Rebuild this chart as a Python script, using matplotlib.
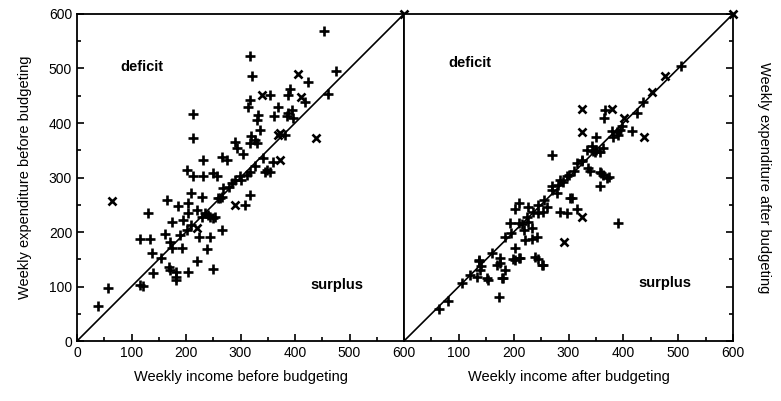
import matplotlib
matplotlib.use("Agg")
import matplotlib.pyplot as plt
from matplotlib.ticker import MultipleLocator

plt.rcParams['font.family'] = ['Liberation Sans', 'DejaVu Sans']

# before budgeting: '+' points (income, expenditure)
before_plus_x = [39, 56, 116, 122, 140, 155, 168, 171, 182, 182, 182, 204, 220, 239, 249,
                 116, 134, 137, 161, 171, 174, 192, 174, 195, 204, 220, 229, 235, 244, 253,
                 266, 223, 244, 210, 201, 189, 131, 165, 186, 204, 210, 229, 232, 213, 256,
                 250, 268, 266, 290, 299, 311, 317, 308, 317, 345, 354, 263, 241, 250, 201,
                 231, 266, 275, 305, 290, 293, 320, 327, 317, 330, 336, 333, 330, 368, 361,
                 388, 385, 394, 397, 382, 317, 313, 354, 390, 388, 418, 424, 475, 453, 318,
                 322, 212, 212, 461, 348, 359, 284, 300, 326, 342, 278, 258]
before_plus_y = [64, 97, 103, 101, 124, 152, 136, 130, 127, 118, 112, 127, 147, 168, 133,
                 187, 187, 161, 196, 182, 170, 170, 219, 222, 234, 240, 228, 234, 228, 228,
                 204, 191, 191, 213, 204, 195, 234, 259, 248, 253, 272, 265, 302, 302, 302,
                 308, 280, 265, 295, 302, 305, 311, 250, 268, 311, 311, 262, 231, 225, 314,
                 333, 338, 332, 344, 366, 354, 376, 369, 363, 363, 388, 415, 406, 429, 412,
                 418, 412, 424, 409, 378, 443, 429, 451, 462, 451, 439, 476, 495, 569, 523,
                 486, 416, 373, 453, 314, 329, 290, 296, 322, 336, 282, 262]
# before budgeting: 'x' points
before_x_x = [64, 290, 220, 405, 438, 411, 340, 372, 372, 368, 600]
before_x_y = [256, 250, 207, 490, 373, 448, 451, 381, 332, 378, 600]

# after budgeting: '+' points
after_plus_x = [506, 424, 367, 365, 415, 388, 394, 391, 382, 269, 351, 342, 351, 357, 363,
                315, 324, 357, 363, 297, 333, 348, 336, 370, 285, 269, 281, 360, 373, 357,
                339, 391, 315, 303, 297, 269, 279, 260, 254, 209, 202, 227, 236, 245, 193,
                209, 227, 218, 233, 221, 233, 242, 202, 209, 202, 199, 239, 245, 253, 175,
                175, 169, 184, 181, 153, 137, 138, 133, 174, 63, 81, 306, 285, 151, 178,
                136, 212, 251, 140, 160, 185, 195, 215, 225, 245, 255, 290, 300, 310, 325,
                345, 380, 398, 435, 120, 105]
after_plus_y = [505, 418, 424, 410, 386, 384, 387, 378, 375, 341, 375, 357, 350, 347, 354,
                326, 332, 311, 305, 302, 350, 347, 317, 299, 295, 284, 286, 308, 301, 284,
                312, 216, 243, 262, 234, 277, 271, 246, 237, 253, 243, 246, 237, 234, 216,
                216, 219, 204, 207, 185, 188, 191, 170, 152, 149, 150, 154, 150, 139, 152,
                143, 139, 130, 115, 112, 146, 130, 118, 81, 58, 73, 262, 237, 115, 115,
                149, 152, 139, 138, 162, 190, 198, 215, 228, 250, 258, 292, 305, 312, 330,
                348, 385, 395, 438, 122, 106]
# after budgeting: 'x' points
after_x_x = [476, 452, 401, 324, 379, 324, 437, 324, 291, 600]
after_x_y = [486, 457, 409, 425, 425, 384, 374, 228, 182, 600]

fig = plt.figure(figsize=(7.81, 4.01), dpi=100)
ax1 = fig.add_axes([0.0986, 0.1496, 0.4187, 0.8155])
ax2 = fig.add_axes([0.5173, 0.1496, 0.4213, 0.8155])

panels = [
    (ax1, before_plus_x, before_plus_y, before_x_x, before_x_y,
     'Weekly income before budgeting', 'Weekly expenditure before budgeting', 103, 503),
    (ax2, after_plus_x, after_plus_y, after_x_x, after_x_y,
     'Weekly income after budgeting', 'Weekly expenditure after budgeting', 106, 510),
]

for ax, px, py, xx, xy, xlab, ylab, sy, dy in panels:
    ax.plot([0, 600], [0, 600], color='black', lw=1.2, zorder=1)
    ax.plot(px, py, linestyle='none', marker='+', markersize=6.5, mew=1.9, color='black')
    ax.plot(xx, xy, linestyle='none', marker='x', markersize=5.5, mew=1.9, color='black',
            clip_on=False)
    ax.set_xlim(0, 600)
    ax.set_ylim(0, 600)
    ax.xaxis.set_major_locator(MultipleLocator(100))
    ax.xaxis.set_minor_locator(MultipleLocator(50))
    ax.yaxis.set_major_locator(MultipleLocator(100))
    ax.yaxis.set_minor_locator(MultipleLocator(50))
    ax.tick_params(which='both', direction='in', labelsize=10, width=1.2)
    ax.tick_params(which='major', length=5)
    ax.tick_params(which='minor', length=3)
    for s in ax.spines.values():
        s.set_linewidth(1.3)
    ax.set_xlabel(xlab, fontsize=10.5, labelpad=7)
    ax.text(80, dy, 'deficit', fontsize=10.5, fontweight='bold', va='center')
    ax.text(428, sy, 'surplus', fontsize=10.5, fontweight='bold', va='center')

ax1.set_ylabel(panels[0][6], fontsize=10.5, labelpad=12)

ax2.yaxis.tick_right()
ax2.yaxis.set_label_position('right')
ax2.tick_params(axis='y', labelright=False)
ax2.set_ylabel(panels[1][6], fontsize=10.5, rotation=270, labelpad=24)
ax2.set_xticks([100, 200, 300, 400, 500, 600])

fig.savefig('out.png', dpi=100)
